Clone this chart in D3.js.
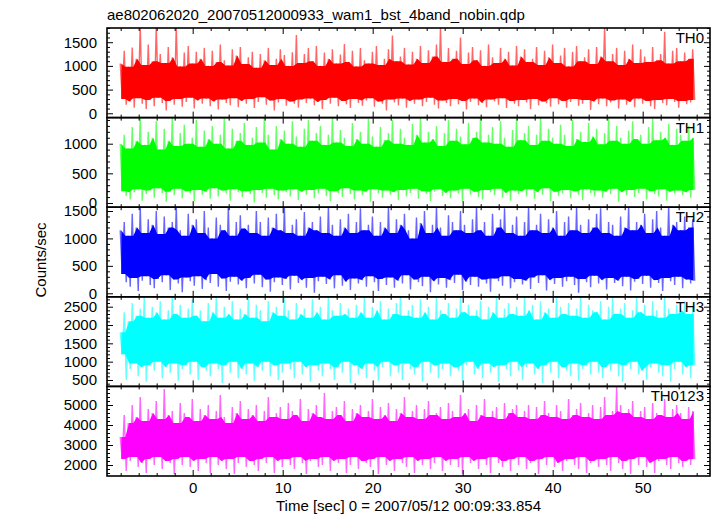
<!DOCTYPE html>
<html><head><meta charset="utf-8">
<script src="https://cdn.jsdelivr.net/npm/d3@7"></script>
<style>
html,body{margin:0;padding:0;background:#fff;}
svg{display:block;font-family:"Liberation Sans",Arial,Helvetica,sans-serif;}
</style></head>
<body><svg id="c" width="717" height="516"></svg>
<script>
// ---- data ----
const title = "ae802062020_20070512000933_wam1_bst_4band_nobin.qdp";
const xLabel = "Time [sec] 0 = 2007/05/12 00:09:33.854";
const yLabel = "Counts/sec";
const panelNames = ["TH0","TH1","TH2","TH3","TH0123"];
const colors = ["#ff0000","#00ff00","#0000ff","#00ffff","#ff00ff"];
const xDomain = [-9.52, 57.48];
const xMajorStep = 10, xMinorStep = 2;
const xTickLabels = [0,10,20,30,40,50];
const tStart = -8.05, tEnd = 56.0;
const yDomains = [[-91,1800],[-71,1440],[-64,1569],[325,2770],[1450,5930]];
const yMajorSteps = [500,500,500,500,1000];
const yMinorSteps = [100,100,100,100,200];

const th0Hi = [1050,1320,980,1390,1150,1820,1020,1450,1100,1820,
 1250,1060,1400,1180,1820,990,1280,1420,1050,1300,
 1150,1380,1000,1320,1080,1450,1120,1010,1350,1220,
 1400,1040,1180,1300,960,1250,1120,1380,1020,1150,
 1350,1230,1000,1290,1650,1060,1250,1380,1100,1420,
 1000,1280,1150,1350,1050,1240,1460,1080,1320,990,
 1380,1120,1050,1300,1420,1020,1150,1350,1640,1100,
 1200,1380,1030,1300,1150,1420,1060,1330,1200,1450,
 1820,1080,1380,1150,1320,1600,1040,1280,1400,1120,
 1330,1000,1450,1180,1060,1380,1150,1300,1010,1420,
 1200,1350,1080,1150,1400,1020,1320,1180,1450,1060,
 1220,1380,990,1300,1420,1100,1180,1350,1040,1400,
 1200,1820,1100,1250,1380,1020,1320,1150,1450,1060,
 1350,1200,1080,1400,1120,1250,1720,1050,1320,1380,
 1100,1280,1150,1350];
const th0Lo = [300,180,250,120,320,200,90,280,150,330,
 220,60,260,180,300,140,240,330,100,270,
 200,310,150,250,80,290,220,170,320,130,
 260,200,300,110,240,340,180,270,60,230,
 300,160,250,200,120,290,220,310,170,240,
 90,280,200,330,150,260,190,110,300,220,
 160,270,320,140,250,200,60,290,230,170,
 310,120,260,200,290,150,240,330,180,100,
 270,220,150,300,190,260,80,240,310,170,
 220,130,290,250,180,320,110,260,200,150,
 280,230,90,300,170,250,210,140,320,190,
 260,120,240,300,160,200,280,70,250,190,
 310,150,230,270,100,290,180,240,130,310,
 200,260,150,90,280,220,170,300,240,120,
 260,190,230,280];

const th1Hi = [1000,1150,920,1280,1050,1450,980,1200,1100,1380,
 900,1250,1050,1450,960,1180,1320,1000,1100,1400,
 950,1220,1080,1300,1000,1150,1450,920,1250,1050,
 1180,1350,980,1100,1280,1020,1450,1150,900,1300,
 1080,1220,1000,1380,1120,950,1250,1400,1050,1180,
 1300,980,1150,1450,1020,1230,1100,960,1350,1080,
 1200,1000,1420,1120,950,1280,1060,1180,1400,1000,
 1250,1100,980,1330,1150,1450,1020,1200,1080,1300,
 960,1180,1400,1050,1250,1120,990,1350,1100,1200,
 1450,1020,1150,1280,1000,1380,1100,950,1230,1420,
 1060,1180,1300,980,1150,1450,1050,1250,1100,1000,
 1320,1150,960,1400,1080,1200,1030,1350,1120,1250,
 990,1180,1450,1050,1300,1100,1000,1220,1380,1080,
 1150,1000,1280,1420,1060,1200,1100,1330,980,1250,
 1150,1050,1300,1100];
const th1Lo = [200,120,60,180,230,40,150,210,90,250,
 170,20,190,130,240,80,200,160,30,220,
 140,190,70,250,110,210,160,40,230,180,
 100,200,150,10,220,170,90,240,130,60,
 210,180,110,230,50,190,140,220,80,160,
 240,120,30,200,170,100,250,150,60,210,
 130,190,20,230,160,90,210,140,180,50,
 220,110,170,240,70,200,150,30,190,230,
 120,170,80,210,160,20,240,140,190,100,
 60,220,180,130,240,90,170,40,210,150,
 200,110,230,70,180,140,250,30,190,120,
 160,220,80,200,140,50,230,170,110,210,
 90,190,150,240,20,180,130,220,100,170,
 240,60,200,150,110,230,40,190,160,210,
 130,180,90,220];

const th2Hi = [1150,1300,1050,1450,1200,1580,1100,1350,1250,1500,
 1080,1400,1200,1300,1580,1150,1050,1450,1250,1350,
 1100,1500,1200,1000,1380,1250,1150,1580,1050,1300,
 1420,1180,1250,1100,1500,1300,1050,1380,1200,1450,
 1150,1580,1100,1250,1350,1050,1480,1200,1300,1150,
 1400,1100,1580,1250,1050,1350,1200,1450,1100,1300,
 1550,1150,1250,1400,1050,1300,1200,1580,1100,1350,
 1250,1450,1150,1000,1380,1280,1500,1100,1250,1580,
 1200,1050,1420,1300,1150,1500,1250,1100,1350,1580,
 1150,1300,1050,1450,1200,1350,1550,1100,1250,1400,
 1050,1300,1580,1150,1250,1450,1100,1350,1200,1500,
 1050,1300,1400,1150,1580,1250,1100,1350,1200,1450,
 1550,1100,1300,1250,1050,1400,1200,1580,1150,1300,
 1250,1450,1100,1350,1500,1200,1050,1580,1250,1300,
 1150,1400,1200,1350];
const th2Lo = [350,200,120,280,40,230,310,150,90,260,
 200,330,60,250,180,20,290,220,140,310,
 80,240,190,350,120,270,40,210,300,160,
 230,90,280,180,340,110,250,30,200,290,
 150,260,70,320,190,240,100,280,10,220,
 300,170,250,90,330,140,210,60,270,180,
 240,120,310,200,40,260,150,290,100,230,
 180,330,70,250,200,130,300,20,220,160,
 280,100,240,190,340,60,210,150,300,120,
 250,180,30,270,220,140,310,90,200,260,
 160,230,80,290,190,330,50,240,170,280,
 120,220,300,150,10,260,200,110,320,180,
 240,70,280,190,230,130,300,50,210,260,
 170,320,100,240,190,40,280,220,150,300,
 90,250,180,230];

const th3Hi = [1800,2350,2100,2600,2250,2450,2790,2200,2500,2350,
 2650,2150,2400,2790,2300,2550,2200,2450,2700,2250,
 2400,2100,2600,2350,2790,2200,2500,2300,2650,2150,
 2450,2300,2790,2200,2550,2400,2100,2650,2350,2500,
 2250,2790,2400,2150,2600,2300,2450,2200,2700,2350,
 2500,2150,2790,2400,2250,2600,2300,2450,2200,2550,
 2350,2790,2200,2500,2400,2650,2150,2450,2300,2600,
 2790,2250,2400,2550,2200,2700,2350,2500,2150,2790,
 2400,2300,2600,2200,2450,2790,2350,2550,2250,2400,
 2650,2150,2500,2350,2790,2200,2450,2600,2300,2500,
 2250,2790,2400,2550,2150,2650,2350,2450,2200,2790,
 2500,2300,2600,2250,2450,2790,2200,2550,2400,2350,
 2650,2150,2500,2790,2300,2450,2600,2200,2400,2790,
 2350,2550,2250,2650,2400,2200,2790,2450,2300,2550,
 2400,2650,2300,2500];
const th3Lo = [1200,500,800,950,600,850,450,900,750,1000,
 550,850,700,950,480,800,900,650,1000,500,
 850,750,600,950,800,420,900,700,1000,550,
 800,650,950,480,850,750,1000,600,900,500,
 700,950,800,550,1000,650,850,450,900,750,
 600,950,800,500,850,700,1000,420,900,650,
 800,550,950,750,480,850,1000,600,900,700,
 500,950,800,650,850,450,1000,700,900,550,
 800,950,600,850,750,480,900,1000,650,800,
 550,950,700,850,450,900,800,600,1000,750,
 500,850,950,650,800,420,900,700,1000,550,
 850,750,600,950,480,800,900,650,1000,700,
 550,850,750,950,600,450,900,800,1000,650,
 750,500,850,950,700,600,900,450,800,1000,
 650,850,550,900];

const th0123Hi = [3400,4500,4100,5000,4400,5400,4200,4800,4600,5200,
 4300,5800,4500,4700,4100,5100,4600,4400,5300,4200,
 4800,4500,5000,4300,4700,5500,4400,4100,4900,4600,
 5200,4300,4800,4500,5000,4200,4700,5400,4400,4600,
 4900,4300,5100,4700,4500,5300,4200,4800,4600,5000,
 4400,5600,4300,4700,4900,4500,5200,4200,4800,4600,
 5000,4400,4700,5300,4300,4900,4500,5100,4200,4800,
 4600,5400,4400,4700,5000,4300,4800,5200,4500,4600,
 4900,4300,5100,4700,4400,5500,4600,4800,4200,5000,
 4500,5300,4400,4700,4900,4300,5100,4600,4800,5000,
 4400,4700,5000,4300,4900,4500,5200,4600,4400,5000,
 4700,4300,5300,4500,4800,5100,4400,4600,5000,4300,
 4900,5400,4500,4700,5900,5000,4600,4800,5200,4400,
 4700,4900,4300,5100,4600,4500,5300,4400,4800,5000,
 4600,4300,4900,4700];
const th0123Lo = [2300,1700,2200,2400,1900,2100,1600,2300,2000,2400,
 1800,2200,2100,1550,2300,2000,2400,1900,2200,1700,
 2300,2100,1600,2400,2000,2200,1800,2300,1550,2100,
 2400,1900,2200,2000,1700,2300,2100,2400,1600,2200,
 1900,2300,2000,1800,2400,2100,1550,2200,2300,1900,
 2000,2400,1700,2200,2100,2300,1600,2000,2400,1800,
 2200,2100,1900,2300,1550,2400,2000,2200,1700,2300,
 2100,1900,2400,1600,2200,2000,2300,1800,2100,2400,
 1700,2200,2000,2300,1900,1550,2400,2100,2200,1800,
 2300,2000,1600,2400,2100,1900,2200,1700,2300,2000,
 2400,1800,2100,2200,1550,2300,2000,2400,1900,2100,
 1700,2200,2300,2000,1800,2400,1600,2100,2200,1900,
 2300,2000,1700,2400,2100,1800,2200,1550,2300,2000,
 2400,1900,2100,1600,2200,2300,2000,1800,2400,2100,
 1900,2200,2000,2300];

const seriesHi = [th0Hi, th1Hi, th2Hi, th3Hi, th0123Hi];
const seriesLo = [th0Lo, th1Lo, th2Lo, th3Lo, th0123Lo];

// ---- layout ----
const W = 717, H = 516;
const L = 107, R = 710, T = 28, B = 476;
const nP = panelNames.length;
const pH = (B - T) / nP;
const FS = 15;
const FONT = '"Liberation Sans",Arial,Helvetica,sans-serif';

const svg = d3.select("#c");
svg.append("rect").attr("width",W).attr("height",H).attr("fill","#fff");

const x = d3.scaleLinear().domain(xDomain).range([L, R]);
const xMajor = d3.range(Math.ceil(xDomain[0]/xMajorStep)*xMajorStep, xDomain[1]+1e-9, xMajorStep);
const xMinor = d3.range(Math.ceil(xDomain[0]/xMinorStep)*xMinorStep, xDomain[1]+1e-9, xMinorStep)
  .filter(v => Math.abs(v % xMajorStep) > 1e-9);

const defs = svg.append("defs");
function rng(d, step){ return d3.range(Math.ceil(d[0]/step)*step, d[1]+1e-9, step); }

const marksLayer = svg.append("g");
const axesLayer = svg.append("g");

panelNames.forEach((name, p) => {
  const y0 = T + p*pH, y1 = y0 + pH;
  const y = d3.scaleLinear().domain(yDomains[p]).range([y1, y0]);
  const hi = seriesHi[p], lo = seriesLo[p];
  const n = hi.length;
  const dt = (tEnd - tStart) / n;

  defs.append("clipPath").attr("id","clip"+p)
    .append("rect").attr("x",L).attr("y",y0).attr("width",R-L).attr("height",pH);

  const g = marksLayer.append("g").attr("clip-path","url(#clip"+p+")");

  // core band: range covered by neighbouring swings
  const core = d3.range(n).map(i => {
    const a = Math.max(0,i-1), b = Math.min(n-1,i+1);
    return {t: tStart + i*dt + dt/4,
            top: Math.min(hi[a],hi[i],hi[b]),
            bot: Math.max(lo[a],lo[i],lo[b])};
  });
  g.append("path").datum(core)
    .attr("fill", colors[p])
    .attr("d", d3.area().x(d=>x(d.t)).y0(d=>y(d.bot)).y1(d=>y(Math.max(d.top,d.bot))));

  // swing line: alternating high and low samples
  const pts = [];
  for (let i=0;i<n;i++){
    pts.push({t: tStart + i*dt, v: hi[i]});
    pts.push({t: tStart + i*dt + dt/2, v: lo[i]});
  }
  g.append("path").datum(pts)
    .attr("fill","none").attr("stroke",colors[p]).attr("stroke-width",1.4)
    .attr("stroke-opacity",0.6).attr("stroke-linejoin","bevel")
    .attr("d", d3.line().x(d=>x(d.t)).y(d=>y(d.v)));

  // axes ticks (inward on all sides)
  const yMaj = rng(yDomains[p], yMajorSteps[p]);
  const yMin = rng(yDomains[p], yMinorSteps[p]).filter(v => Math.abs(v % yMajorSteps[p]) > 1e-9);

  const ax = axesLayer.append("g");
  const leftMaj = d3.axisLeft(y).tickValues(yMaj).tickSize(-6).tickPadding(10).tickFormat(d3.format("d"));
  const leftMin = d3.axisLeft(y).tickValues(yMin).tickSize(-3).tickFormat("");
  const rightMaj = d3.axisRight(y).tickValues(yMaj).tickSize(-6).tickFormat("");
  const rightMin = d3.axisRight(y).tickValues(yMin).tickSize(-3).tickFormat("");
  ax.append("g").attr("transform",`translate(${L},0)`).call(leftMaj);
  ax.append("g").attr("transform",`translate(${L},0)`).call(leftMin);
  ax.append("g").attr("transform",`translate(${R},0)`).call(rightMaj);
  ax.append("g").attr("transform",`translate(${R},0)`).call(rightMin);

  const topMaj = d3.axisTop(x).tickValues(xMajor).tickSize(-6).tickFormat("");
  const topMin = d3.axisTop(x).tickValues(xMinor).tickSize(-3).tickFormat("");
  ax.append("g").attr("transform",`translate(0,${y0})`).call(topMaj);
  ax.append("g").attr("transform",`translate(0,${y0})`).call(topMin);
  const isLast = p === nP-1;
  const botMaj = d3.axisBottom(x).tickValues(xMajor).tickSize(-6).tickPadding(6)
    .tickFormat(d => (isLast && xTickLabels.includes(d)) ? d3.format("d")(d) : "");
  const botMin = d3.axisBottom(x).tickValues(xMinor).tickSize(-3).tickFormat("");
  ax.append("g").attr("transform",`translate(0,${y1})`).call(botMaj);
  ax.append("g").attr("transform",`translate(0,${y1})`).call(botMin);

  ax.selectAll("g").attr("font-size",FS).attr("font-family",FONT);
  ax.selectAll(".domain").remove();
  ax.selectAll(".tick line").attr("stroke","#000").attr("stroke-width",1);
  ax.selectAll(".tick text").attr("fill","#000");

  // frame
  axesLayer.append("rect").attr("x",L).attr("y",y0).attr("width",R-L).attr("height",pH)
    .attr("fill","none").attr("stroke","#000").attr("stroke-width",1.6);

  // panel label
  axesLayer.append("text").attr("x",R-6).attr("y",y0+15).attr("text-anchor","end")
    .attr("font-size",FS).attr("fill","#000").text(name);
});

svg.append("text").attr("x",L).attr("y",20).attr("font-size",FS).attr("fill","#000").text(title);
svg.append("text").attr("x",(L+R)/2).attr("y",511).attr("text-anchor","middle")
  .attr("font-size",FS).attr("fill","#000").text(xLabel);
svg.append("text").attr("transform",`translate(46,260) rotate(-90)`)
  .attr("text-anchor","middle").attr("font-size",FS).attr("fill","#000").text(yLabel);
</script>
</body></html>
